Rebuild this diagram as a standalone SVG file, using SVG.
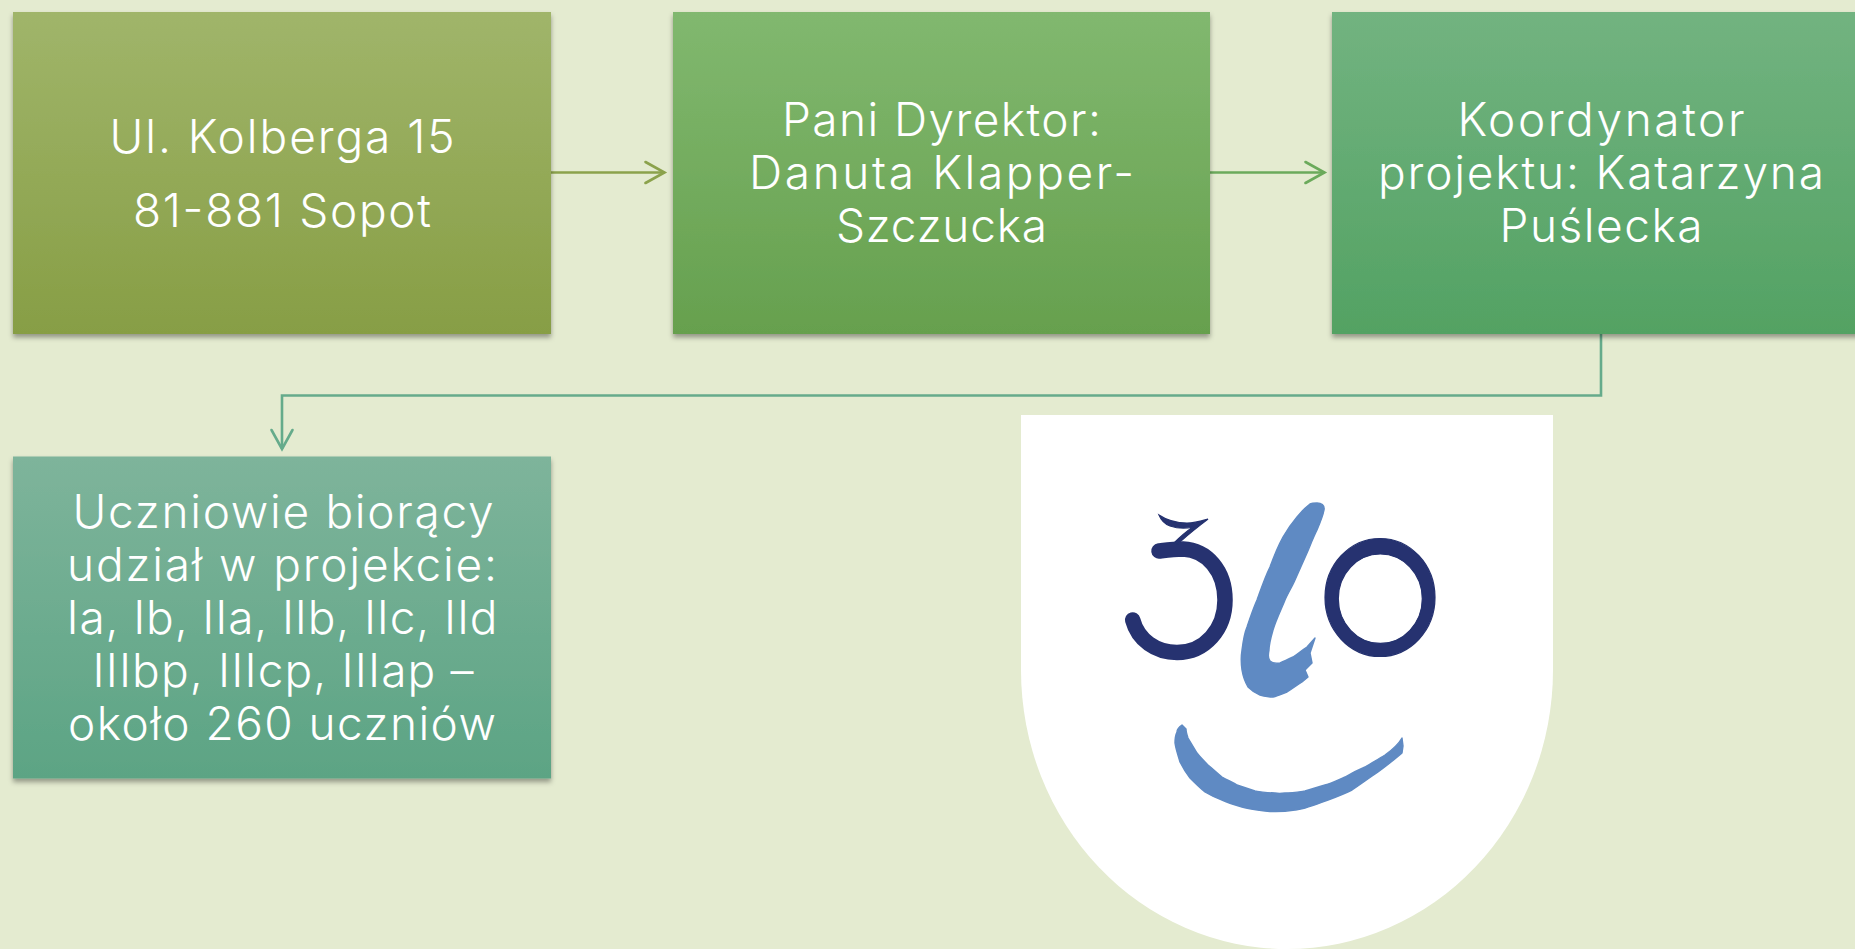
<svg xmlns="http://www.w3.org/2000/svg" width="1855" height="949" viewBox="0 0 1855 949">
<style>
.box{filter:url(#sh)}
.t{font-family:"Inter","Lato","Liberation Sans",sans-serif;font-weight:300;font-size:46px;fill:#fff;text-anchor:middle}
.c{fill:none;stroke-width:2.6}
.d{fill:#25316f;stroke:#25316f;stroke-width:1.2}
.b{fill:#5f8ac3;stroke:#5f8ac3;stroke-width:1.4;stroke-linejoin:round}
</style>
<defs>
<filter id="sh" x="-5%" y="-5%" width="110%" height="112%"><feDropShadow dx="0" dy="3.5" stdDeviation="2.5" flood-color="#000" flood-opacity="0.36"/></filter>
<filter id="soft" x="-5%" y="-5%" width="110%" height="110%"><feGaussianBlur stdDeviation="0.7"/></filter>
<linearGradient id="g1" x1="0" y1="0" x2="0" y2="1"><stop offset="0" stop-color="#a0b56a"/><stop offset="1" stop-color="#879e45"/></linearGradient>
<linearGradient id="g2" x1="0" y1="0" x2="0" y2="1"><stop offset="0" stop-color="#81b86f"/><stop offset="1" stop-color="#66a04e"/></linearGradient>
<linearGradient id="g3" x1="0" y1="0" x2="0" y2="1"><stop offset="0" stop-color="#72b380"/><stop offset="1" stop-color="#53a263"/></linearGradient>
<linearGradient id="g4" x1="0" y1="0" x2="0" y2="1"><stop offset="0" stop-color="#7eb49b"/><stop offset="1" stop-color="#5ca484"/></linearGradient>
<marker id="m1" markerUnits="userSpaceOnUse" markerWidth="24" markerHeight="26" viewBox="-21 -13 24 26" refX="0" refY="0" orient="auto"><path d="M-19,-10.5 L0,0 L-19,10.5" fill="none" stroke="#8ba24b" stroke-width="2.6" stroke-linecap="round"/></marker>
<marker id="m2" markerUnits="userSpaceOnUse" markerWidth="24" markerHeight="26" viewBox="-21 -13 24 26" refX="0" refY="0" orient="auto"><path d="M-19,-10.5 L0,0 L-19,10.5" fill="none" stroke="#6baa5b" stroke-width="2.6" stroke-linecap="round"/></marker>
<marker id="m3" markerUnits="userSpaceOnUse" markerWidth="24" markerHeight="26" viewBox="-21 -13 24 26" refX="0" refY="0" orient="auto"><path d="M-19,-10.5 L0,0 L-19,10.5" fill="none" stroke="#65ab8b" stroke-width="2.6" stroke-linecap="round"/></marker>
</defs>
<rect width="1855" height="949" fill="#e4ebd0"/>
<g id="connectors">
<path class="c" stroke="#8ba24b" d="M551,172.5H664.5" marker-end="url(#m1)"/>
<path class="c" stroke="#6baa5b" d="M1210,172.5H1324.5" marker-end="url(#m2)"/>
<path class="c" stroke="#65ab8b" d="M1601,334V395.5H282V449" marker-end="url(#m3)"/>
</g>
<g id="node-adres">
<rect class="box" x="13" y="12" width="538" height="322" fill="url(#g1)"/>
<text class="t" x="282" y="152.5" textLength="345">Ul. Kolberga 15</text>
<text class="t" x="282" y="226.5" textLength="298">81-881 Sopot</text>
</g>
<g id="node-dyrektor">
<rect class="box" x="673" y="12" width="537" height="322" fill="url(#g2)"/>
<text class="t" x="941.5" y="136" textLength="319">Pani Dyrektor:</text>
<text class="t" x="941.5" y="189" textLength="385">Danuta Klapper-</text>
<text class="t" x="941.5" y="242" textLength="211">Szczucka</text>
</g>
<g id="node-koordynator">
<rect class="box" x="1332" y="12" width="538" height="322" fill="url(#g3)"/>
<text class="t" x="1601" y="136" textLength="287">Koordynator</text>
<text class="t" x="1601" y="189" textLength="446">projektu: Katarzyna</text>
<text class="t" x="1601" y="242" textLength="203">Puślecka</text>
</g>
<g id="node-uczniowie">
<rect class="box" x="13" y="456.5" width="538" height="322" fill="url(#g4)"/>
<text class="t" x="283" y="528" textLength="421">Uczniowie biorący</text>
<text class="t" x="282" y="581" textLength="430">udział w projekcie:</text>
<text class="t" x="282" y="634" textLength="431">Ia, Ib, IIa, IIb, IIc, IId</text>
<text class="t" x="283" y="687" textLength="381">IIIbp, IIIcp, IIIap –</text>
<text class="t" x="282" y="739.5" textLength="428">około 260 uczniów</text>
</g>
<g id="logo">
<path fill="#fff" d="M1021,415H1553V670A266,279 0 0 1 1021,670Z"/>
<g filter="url(#soft)">
<path d="M1132.7,620C1138,640 1156,652.5 1177,652.5C1205,652.5 1225,629 1225,600C1225,571 1207,550 1183,549C1174,549 1167,550 1159,551" fill="none" stroke="#25316f" stroke-width="15.5" stroke-linecap="round"/>
<path class="d" d="M1159,515C1165,519 1175,523 1187,523C1195,523 1201,521 1208,519C1198,527 1187,535 1178,544L1174,543C1180,537 1187,531 1193,527C1185,529 1176,528 1170,526C1165,524 1161,520 1159,515Z"/>
<path class="d" fill-rule="evenodd" d="M1325,597.5A55,59 0 1 1 1435,597.5A55,59 0 1 1 1325,597.5ZM1338.3,598.7A42,44.7 0 1 0 1422.3,598.7A42,44.7 0 1 0 1338.3,598.7Z"/>
<path class="b" d="M1317,503C1321,503 1325,505 1324,510C1323,516 1320,523 1317,530C1313,538 1310,546 1307,553C1303,562 1299,571 1295,580C1292,587 1288,593 1285,600C1281,610 1276,620 1273,630C1271,637 1269,644 1269,650C1268,655 1268,659 1270,661C1273,664 1276,663 1280,663C1285,661 1289,659 1293,657C1298,654 1302,650 1307,647L1315,638L1310,653L1312,663L1305,670L1308,677L1302,682C1297,685 1292,689 1287,692C1282,694 1278,696 1273,697C1268,697 1264,696 1260,695C1255,693 1251,690 1248,687C1245,682 1243,676 1242,670C1241,663 1241,656 1242,650C1243,642 1244,634 1247,627C1250,618 1253,609 1257,600C1261,589 1265,577 1270,567C1274,556 1278,546 1283,537C1287,530 1292,523 1297,517C1301,512 1306,507 1310,504C1312,503 1315,503 1317,503Z"/>
<path class="b" d="M1182,725C1179,727 1177,729 1177,732C1175,736 1175,739 1175,743C1176,750 1178,755 1180,762C1183,768 1186,773 1190,778C1195,783 1200,788 1205,792C1210,795 1216,798 1222,800C1228,803 1235,805 1242,807C1249,809 1257,810 1265,811C1275,812 1285,811.5 1295,810C1298,809.5 1302,809 1305,808C1313,806 1320,803 1328,800C1336,797 1344,794 1352,790C1361,784 1369,778 1378,772C1386,766 1394,760 1402,753L1403,746L1402,738C1398,745 1392,750 1385,755C1378,759 1372,763 1365,767C1358,770 1352,773 1345,777C1338,780 1332,783 1325,785C1318,787 1312,789 1305,791C1298,792 1292,793 1285,793C1281,793.5 1278,793.5 1275,793C1268,793 1262,792 1255,791C1249,789 1243,787 1237,785C1232,782 1227,780 1222,777C1217,773 1213,769 1208,765C1204,761 1200,757 1197,753C1194,748 1191,743 1188,738C1187,735 1186,732 1186,729Z"/>
</g>
</g>
</svg>
